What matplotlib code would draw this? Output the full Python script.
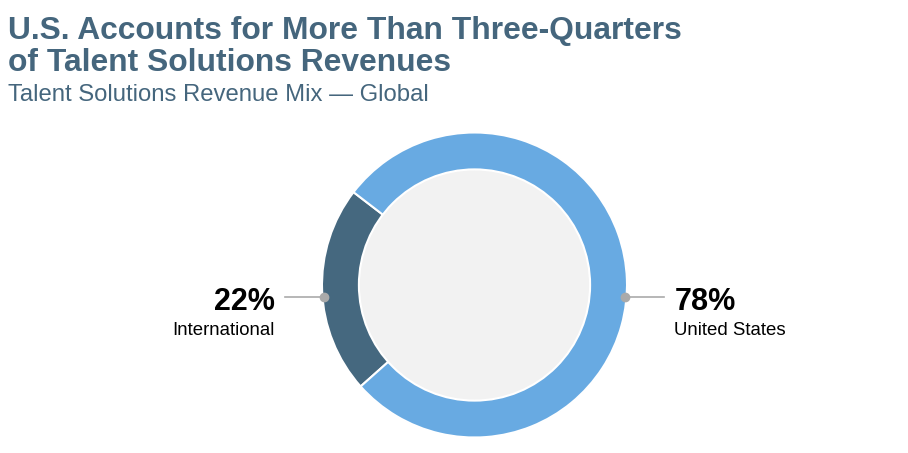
import numpy as np
import matplotlib
matplotlib.use('Agg')
from matplotlib import pyplot as plt
from matplotlib.patches import Circle

plt.rcParams['font.family'] = ['Liberation Sans', 'DejaVu Sans']

title_lines = ['U.S. Accounts for More Than Three-Quarters', 'of Talent Solutions Revenues']
subtitle = 'Talent Solutions Revenue Mix \u2014 Global'
regions = ['International', 'United States']
shares = [22, 78]
colors = ['#45687f', '#68aae2']

W, H = 908, 453
fig = plt.figure(figsize=(W / 100, H / 100), dpi=100)

# donut axes: center (474.5, 285) px, radius 152.5 px
cx, cy, r = 474.5, 285, 152.5
ax = fig.add_axes([(cx - r) / W, (H - cy - r) / H, 2 * r / W, 2 * r / H])
ax.axis('off')

start = 142.5
wedges, _ = ax.pie(shares, colors=colors, startangle=start, counterclock=True,
                   radius=1, wedgeprops=dict(edgecolor='white', linewidth=1.5))
ax.add_patch(Circle((0, 0), 0.758, facecolor='#f2f2f2', edgecolor='white', lw=1.5, zorder=5))
ax.set_xlim(-1, 1)
ax.set_ylim(-1, 1)
ax.set_aspect('equal')

dot_y = -0.079
for w, name, val in zip(wedges, regions, shares):
    mid = np.deg2rad((w.theta1 + w.theta2) / 2)
    side = 1 if np.cos(mid) > 0 else -1
    x0 = side * 0.99
    x1 = side * 1.24
    ax.plot([x0, x1], [dot_y, dot_y], color='#aaaaaa', lw=1.2, clip_on=False, zorder=6)
    ax.plot([x0], [dot_y], 'o', color='#aaaaaa', ms=6, clip_on=False, zorder=7)
    tx = side * 1.31
    ha = 'left' if side > 0 else 'right'
    ax.text(tx, -0.164, f'{val}%', ha=ha, va='baseline', fontsize=22,
            fontweight='bold', color='black')
    ax.text(tx, -0.328, name, ha=ha, va='baseline', fontsize=13.4, color='black')

for i, line in enumerate(title_lines):
    fig.text(8 / W, 1 - (39 + 32 * i) / H, line, ha='left', va='baseline',
             fontsize=22.9, fontweight='bold', color='#45667d')
fig.text(8 / W, 1 - 101 / H, subtitle, ha='left', va='baseline', fontsize=17.2,
         color='#45667d')

fig.savefig('out.png', dpi=100, facecolor='white')
